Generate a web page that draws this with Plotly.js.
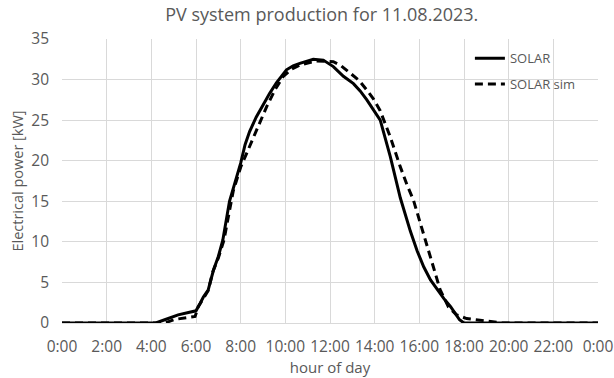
<!DOCTYPE html>
<html>
<head>
<meta charset="utf-8">
<script src="https://cdn.plot.ly/plotly-3.0.1.min.js"></script>
<style>html,body{margin:0;padding:0;background:#fff;}#chart{width:614px;height:378px;}</style>
</head>
<body>
<div id="chart"></div>
<script>
// Data (hours of day, kW)
const solarHours = [0, 4.2, 4.6, 5.2, 5.66, 6.0, 6.18, 6.33, 6.55, 6.7, 6.78, 7.0, 7.2, 7.5, 8.0, 8.2, 8.4, 8.7, 9.0, 9.3, 9.6, 10.05, 10.35, 10.65, 11.25, 11.7, 12.15, 12.35, 12.6, 13.05, 13.35, 13.65, 13.95, 14.25, 14.45, 14.7, 15.15, 15.35, 15.6, 15.9, 16.2, 16.5, 16.8, 17.1, 17.4, 17.8, 18.0, 24];
const solarPower = [0, 0, 0.4, 1.0, 1.3, 1.5, 2.4, 3.2, 4.1, 5.7, 6.5, 8.2, 10.2, 15.0, 19.7, 22.0, 23.6, 25.4, 26.9, 28.3, 29.6, 31.2, 31.7, 32.0, 32.5, 32.4, 31.6, 31.1, 30.4, 29.5, 28.6, 27.5, 26.3, 25.0, 23.0, 20.5, 15.4, 13.5, 11.3, 8.9, 6.9, 5.3, 4.1, 3.0, 2.0, 0.4, 0, 0];
const simHours = [0, 4.6, 5.06, 5.5, 5.96, 6.1, 6.33, 6.55, 6.75, 7.0, 7.25, 7.45, 7.67, 8.0, 8.42, 8.8, 9.17, 9.55, 9.91, 10.3, 10.66, 11.4, 12.15, 12.5, 12.9, 13.3, 13.65, 13.95, 14.24, 14.69, 15.14, 15.45, 15.73, 15.95, 16.18, 16.4, 16.63, 16.93, 17.3, 17.67, 18.12, 18.72, 19.31, 19.7, 24];
const simPower = [0, 0, 0.45, 0.65, 0.8, 2.0, 3.1, 4.0, 6.3, 8.0, 10.2, 13.3, 16.3, 19.2, 21.9, 24.5, 26.7, 28.8, 30.4, 31.3, 31.8, 32.3, 32.2, 31.7, 30.8, 29.9, 28.7, 27.6, 26.2, 23.0, 19.3, 17.0, 15.2, 13.1, 11.0, 8.9, 6.9, 4.1, 2.0, 1.0, 0.55, 0.35, 0.15, 0, 0];
const tickHours = [0, 2, 4, 6, 8, 10, 12, 14, 16, 18, 20, 22, 24];
const tickLabels = ["0:00", "2:00", "4:00", "6:00", "8:00", "10:00", "12:00", "14:00", "16:00", "18:00", "20:00", "22:00", "0:00"];
const seriesNames = ["SOLAR", "SOLAR sim"];

const FONT = "'Open Sans', Carlito, Lato, sans-serif";
const GREY = "#595959";

const traces = [
  {x: solarHours, y: solarPower, name: seriesNames[0], type: "scatter", mode: "lines",
   legendgroup: "a", line: {color: "#000", width: 3}},
  {x: simHours, y: simPower, name: seriesNames[1], type: "scatter", mode: "lines",
   legendgroup: "b", line: {color: "#000", width: 3, dash: "8px,5px"}}
];

const layout = {
  width: 614, height: 378,
  margin: {l: 62, r: 16, t: 39, b: 55},
  paper_bgcolor: "#fff", plot_bgcolor: "#fff",
  font: {family: FONT, color: GREY, size: 15},
  title: {text: "PV system production for 11.08.2023.", font: {family: FONT, size: 18, color: GREY},
          x: 0.524, xanchor: "center", y: 0.962, yanchor: "middle"},
  xaxis: {range: [0, 24], tickvals: tickHours, ticktext: tickLabels, showgrid: true,
          gridcolor: "#d9d9d9", gridwidth: 1, zeroline: false, showline: true, linecolor: "#d9d9d9",
          ticks: "", tickfont: {size: 15.5, color: GREY}, ticklabelstandoff: 9,
          title: {text: "hour of day", font: {size: 15, color: GREY}, standoff: 1}},
  yaxis: {range: [0, 35], dtick: 5, showgrid: true, gridcolor: "#d9d9d9", gridwidth: 1,
          zeroline: false, showline: false, ticks: "", tickfont: {size: 15.5, color: GREY},
          ticklabelstandoff: 12,
          title: {text: "Electrical power [kW]", font: {size: 14.5, color: GREY}, standoff: 4}},
  showlegend: true,
  legend: {x: 0.761, xanchor: "left", y: 0.985, yanchor: "top", bgcolor: "rgba(255,255,255,0)",
           font: {size: 13, color: GREY}, traceorder: "grouped", tracegroupgap: 6}
};

Plotly.newPlot("chart", traces, layout, {displayModeBar: false, staticPlot: true});
</script>
</body>
</html>
